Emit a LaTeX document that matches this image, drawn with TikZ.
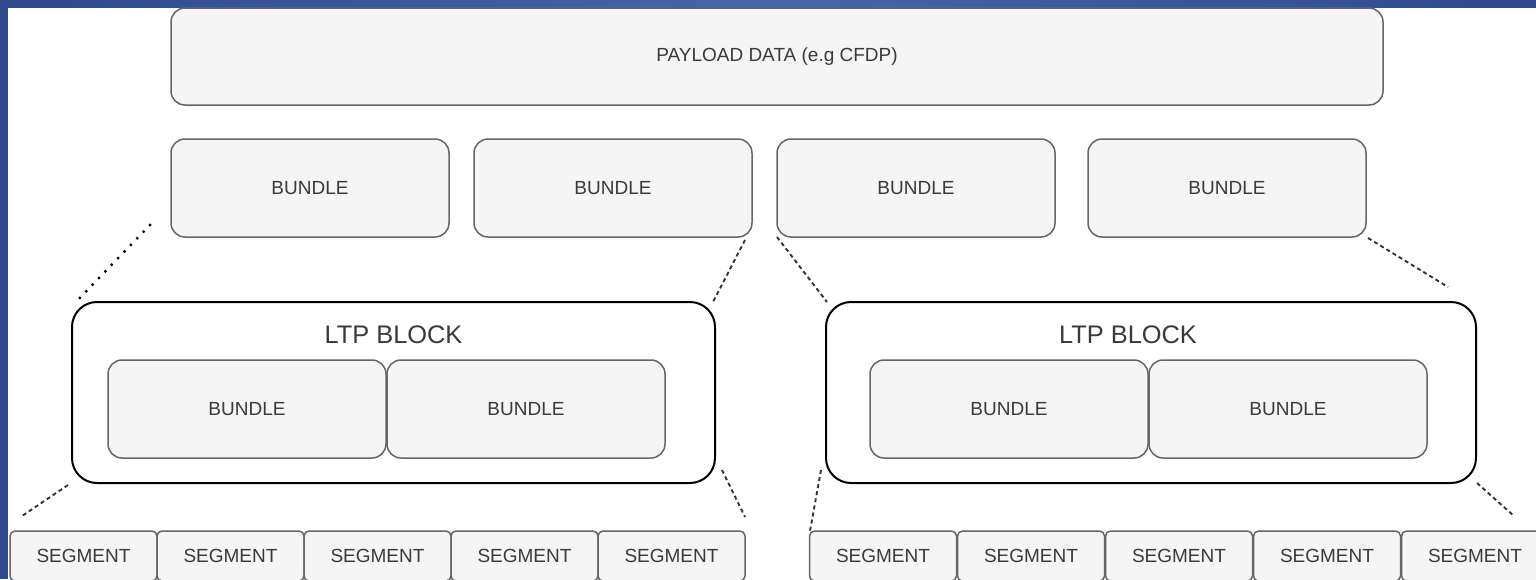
\documentclass[tikz,border=0pt]{standalone}
\usepackage{fontspec}
\setmainfont{Liberation Sans}
\definecolor{boxfill}{HTML}{F5F5F5}
\definecolor{boxline}{HTML}{666666}
\definecolor{txt}{HTML}{3A3A3A}
\definecolor{slideA}{HTML}{2E4A8C}
\definecolor{slideB}{HTML}{4865AA}

\begin{document}
\begin{tikzpicture}[x=0.5pt, y=-0.5pt,
    box/.style={draw=boxline, fill=boxfill, line width=0.75pt, rounded corners=7pt,
      inner sep=0pt, outer sep=0pt, text=txt, font=\fontsize{9.5}{11}\selectfont},
    ltp/.style={draw=black, line width=1pt, rounded corners=12.5pt, inner sep=0pt, outer sep=0pt,
      minimum width=#1, minimum height=90.5pt},
    seg/.style={box, rounded corners=2.5pt, minimum width=73.5pt, minimum height=25pt},
    gap/.style={line width=0.95pt, dash pattern=on 2pt off 1.6pt, black!80}]
      \useasboundingbox (0,0) rectangle (1536,579);
      \fill[white] (0,0) rectangle (1536,579);
      \shade[left color=slideA, right color=slideA, middle color=slideB] (0,0) rectangle (1536,7);
      \fill[slideA] (0,0) rectangle (8,579);

      \node[box, minimum width=606pt, minimum height=48.5pt] (payload) at (777,56.5) {PAYLOAD DATA (e.g CFDP)};
      \foreach \x [count=\i] in {310,613,916,1227}
        \node[box, minimum width=139pt, minimum height=49pt] (b\i) at (\x,188) {BUNDLE};

      % two LTP blocks
      \node[ltp=321.5pt] (ltpA) at (393.5,392.5) {};
      \node[ltp=325pt] (ltpB) at (1151,392.5) {};
      \node[font=\fontsize{12.7}{15}\selectfont, text=txt] (ltpAt) at (393.5,335) {LTP BLOCK};
      \node[font=\fontsize{12.7}{15}\selectfont, text=txt] (ltpBt) at (1128,335) {LTP BLOCK};
      \foreach \x [count=\i] in {247,526}
        \node[box, minimum width=139pt, minimum height=49pt] (ia\i) at (\x,409) {BUNDLE};
      \foreach \x [count=\i] in {1009,1288}
        \node[box, minimum width=139pt, minimum height=49pt] (ib\i) at (\x,409) {BUNDLE};

      % segments
      \foreach \i in {0,...,4} {
        \node[seg] (sa\i) at (83.5+147*\i,556) {SEGMENT};
        \node[seg] (sb\i) at (883+148*\i,556) {SEGMENT};
      }

      \coordinate (p1) at (150,225); \coordinate (q1) at (75,303);
      \coordinate (p2) at (745,240); \coordinate (q2) at (713,302);
      \coordinate (p3) at (777,237); \coordinate (q3) at (827,302);
      \coordinate (p4) at (1368,238); \coordinate (q4) at (1448,287);
      \coordinate (p5) at (68,485); \coordinate (q5) at (22,516);
      \coordinate (p6) at (722,470); \coordinate (q6) at (745,517);
      \coordinate (p7) at (821,470); \coordinate (q7) at (810,531);
      \coordinate (p8) at (1477,483); \coordinate (q8) at (1514,516);
      \draw[black, line width=1.6pt, line cap=round, dash pattern=on 0pt off 4.6pt] (p1) -- (q1);
      \foreach \i in {2,...,8}
        \draw[gap] (p\i) -- (q\i);
    \end{tikzpicture}
\end{document}
